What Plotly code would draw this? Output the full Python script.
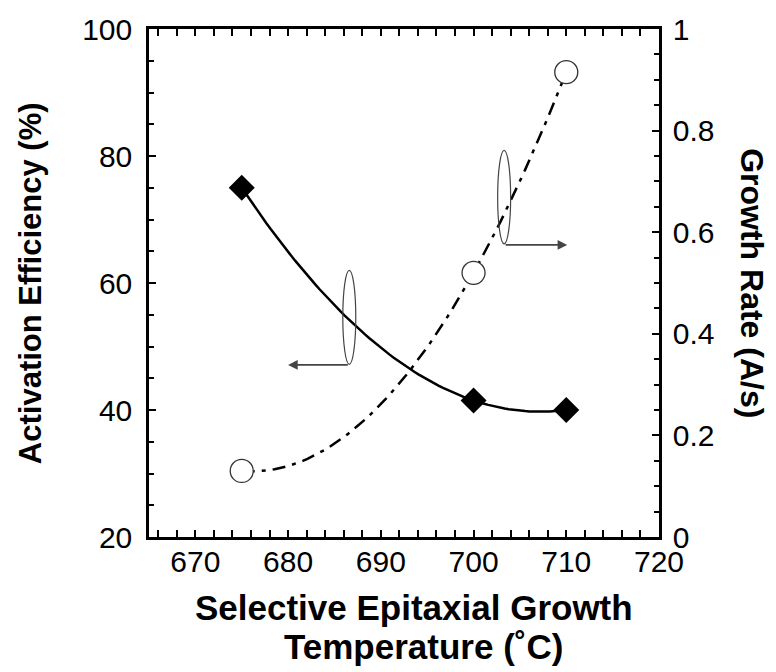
import numpy as np
import plotly.graph_objects as go

# Data
temps_eff = [675, 700, 710]
activation_eff = [75, 41.5, 40]          # %
temps_gr = [675, 700, 710]
growth_rate = [0.13, 0.52, 0.915]        # A/s

x_ticks = [670, 680, 690, 700, 710, 720]
y_ticks = [20, 40, 60, 80, 100]
y2_ticks = [0, 0.2, 0.4, 0.6, 0.8, 1]
y2_ticklabels = ["0", "0.2", "0.4", "0.6", "0.8", "1"]

FONT = "Liberation Sans, Arial, sans-serif"


def trend(xs, ys):
    """Second-order trend line (as in the original curve fit) over the data span."""
    coef = np.polyfit(xs, ys, 2)
    xf = np.linspace(min(xs), max(xs), 80)
    return xf, np.polyval(coef, xf)


fig = go.Figure()

xf_gr, yf_gr = trend(temps_gr, growth_rate)
fig.add_trace(go.Scatter(
    x=xf_gr, y=yf_gr, yaxis="y2", mode="lines",
    line=dict(color="black", width=2.5, dash="13px,7px,4px,7px"),
    hoverinfo="skip", showlegend=False))

xf_eff, yf_eff = trend(temps_eff, activation_eff)
fig.add_trace(go.Scatter(
    x=xf_eff, y=yf_eff, mode="lines",
    line=dict(color="black", width=2.5),
    hoverinfo="skip", showlegend=False))

fig.add_trace(go.Scatter(
    x=temps_gr, y=growth_rate, yaxis="y2", mode="markers",
    marker=dict(symbol="circle", size=23, color="white",
                line=dict(color="#333", width=1.3)),
    showlegend=False))

fig.add_trace(go.Scatter(
    x=temps_eff, y=activation_eff, mode="markers",
    marker=dict(symbol="diamond", size=20, color="black"),
    showlegend=False))

axis_common = dict(showline=True, linecolor="black", linewidth=2.5,
                   ticks="inside", ticklen=7, tickwidth=2, tickcolor="black",
                   showgrid=False, zeroline=False,
                   tickfont=dict(family=FONT, size=30, color="black"))

fig.update_layout(
    width=776, height=672,
    margin=dict(l=149, r=117, t=25, b=135),
    paper_bgcolor="white", plot_bgcolor="white",
    xaxis=dict(range=[665, 720], tickvals=x_ticks, mirror="allticks",
               ticklabelstandoff=-4,
               minor=dict(dtick=2, tick0=670, ticks="inside", ticklen=5,
                          tickwidth=1.5, tickcolor="black"),
               **axis_common),
    yaxis=dict(range=[20, 100], tickvals=y_ticks, ticklabelstandoff=8,
               minor=dict(dtick=5, tick0=20, ticks="inside", ticklen=5,
                          tickwidth=1.5, tickcolor="black"),
               **axis_common),
    yaxis2=dict(range=[0, 1], tickvals=y2_ticks, ticktext=y2_ticklabels,
                overlaying="y", side="right", ticklabelstandoff=5,
                minor=dict(dtick=0.05, tick0=0, ticks="inside", ticklen=5,
                           tickwidth=1.5, tickcolor="black"),
                **axis_common),
)

# Ellipse "loops" marking which axis each curve belongs to
fig.add_shape(type="circle", xref="x", yref="y", x0=685.9, x1=687.3, y0=47.2, y1=62.0,
              line=dict(color="#444", width=1.2))
fig.add_shape(type="circle", xref="x", yref="y2", x0=702.6, x1=704.0, y0=0.577, y1=0.761,
              line=dict(color="#444", width=1.2))

# Arrows
fig.add_annotation(x=680.0, y=47.1, ax=686.6, ay=47.1, xref="x", yref="y",
                   axref="x", ayref="y", text="", showarrow=True, arrowhead=2,
                   arrowsize=1.2, arrowwidth=1.6, arrowcolor="#444", standoff=0)
fig.add_annotation(x=710.1, y=0.575, ax=703.3, ay=0.575, xref="x", yref="y2",
                   axref="x", ayref="y2", text="", showarrow=True, arrowhead=2,
                   arrowsize=1.2, arrowwidth=1.6, arrowcolor="#444", standoff=0)

# Axis titles
fig.add_annotation(text="<b>Activation Efficiency (%)</b>", xref="paper", yref="paper",
                   x=-0.233, y=0.5, xanchor="center", yanchor="middle",
                   textangle=-90, showarrow=False,
                   font=dict(family=FONT, size=31, color="black"))
fig.add_annotation(text="<b>Growth Rate (A/s)</b>", xref="paper", yref="paper",
                   x=1.182, y=0.5, xanchor="center", yanchor="middle",
                   textangle=90, showarrow=False,
                   font=dict(family=FONT, size=32, color="black"))
fig.add_annotation(text="<b>Selective Epitaxial Growth</b>", xref="paper", yref="paper",
                   x=0.52, y=-0.138, yanchor="middle", showarrow=False,
                   font=dict(family=FONT, size=35, color="black"))
fig.add_annotation(text="<b>Temperature (˚C)</b>", xref="paper", yref="paper",
                   x=0.539, y=-0.216, yanchor="middle", showarrow=False,
                   font=dict(family=FONT, size=35, color="black"))

fig.write_html("out.html")
